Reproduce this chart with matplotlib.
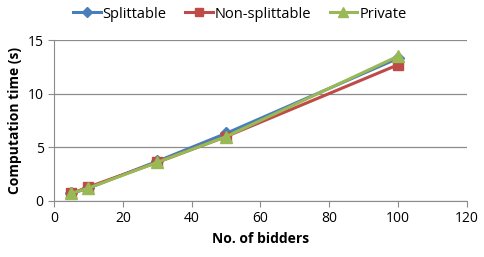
import matplotlib
matplotlib.use('Agg')
import matplotlib.pyplot as plt

bidders = [5, 10, 30, 50, 100]
splittable = [0.7, 1.2, 3.7, 6.3, 13.3]
non_splittable = [0.7, 1.3, 3.6, 6.0, 12.7]
private = [0.7, 1.2, 3.6, 6.0, 13.5]

plt.rcParams['font.family'] = ['Open Sans', 'DejaVu Sans']

fig = plt.figure(figsize=(4.84, 2.57), dpi=100)
ax = fig.add_axes([0.1116, 0.218, 0.853, 0.626])

ax.plot(bidders, splittable, color='#4a7ebb', marker='D', markersize=6, lw=2.2, label='Splittable')
ax.plot(bidders, non_splittable, color='#be4b48', marker='s', markersize=7, lw=2.2, label='Non-splittable')
ax.plot(bidders, private, color='#98b954', marker='^', markersize=8, lw=2.2, label='Private')

ax.set_xlim(0, 120)
ax.set_ylim(0, 15)
ax.set_xticks(range(0, 121, 20))
ax.set_yticks([0, 5, 10, 15])
ax.yaxis.grid(True, color='#8c8c8c', lw=0.9)
ax.set_axisbelow(True)
for s in ['top', 'right']:
    ax.spines[s].set_visible(False)
for s in ['left', 'bottom']:
    ax.spines[s].set_color('#8c8c8c')
ax.tick_params(colors='#8c8c8c', labelcolor='black', labelsize=10, length=4)
ax.set_xlabel('No. of bidders', fontsize=10, fontweight='bold')
ax.set_ylabel('Computation time (s)', fontsize=10, fontweight='bold')

ax.legend(loc='upper center', bbox_to_anchor=(0.45, 1.29), ncol=3, frameon=False,
          fontsize=10.5, handlelength=1.9, handletextpad=0.15, columnspacing=1.25,
          markerscale=0.85)

plt.savefig('out.png', dpi=100, facecolor='white')
plt.close()
